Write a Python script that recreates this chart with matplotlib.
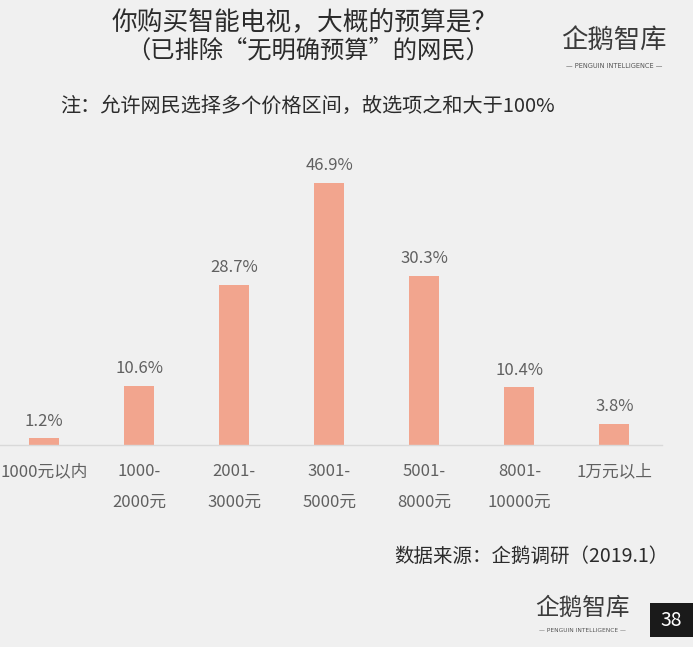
import matplotlib
matplotlib.use("Agg")
import matplotlib.pyplot as plt
from matplotlib.patches import Rectangle

plt.rcParams['font.family'] = ['Noto Sans CJK SC', 'DejaVu Sans']

categories = ["1000元以内", "1000-\n2000元", "2001-\n3000元", "3001-\n5000元",
              "5001-\n8000元", "8001-\n10000元", "1万元以上"]
values = [1.2, 10.6, 28.7, 46.9, 30.3, 10.4, 3.8]

title_lines = ["你购买智能电视，大概的预算是？", "（已排除\u201c无明确预算\u201d的网民）"]
note = "注：允许网民选择多个价格区间，故选项之和大于100%"
source = "数据来源：企鹅调研（2019.1）"
page_no = "38"

BG = "#f0f0f0"
BAR = "#f2a58e"
TXT = "#606060"
DARK = "#2b2b2b"

W, H = 693, 647
fig = plt.figure(figsize=(W / 100, H / 100), dpi=100, facecolor=BG)

base_px = 445
top_px = 150
ax = fig.add_axes([0, (H - base_px) / H, 662 / W, (base_px - top_px) / H])
ax.set_facecolor(BG)
ax.bar(range(len(values)), values, width=0.315, color=BAR)
ax.set_xlim(-0.463, 6.5)
ax.set_ylim(0, (base_px - top_px) / 5.59)
for s in ["top", "right", "left"]:
    ax.spines[s].set_visible(False)
ax.spines["bottom"].set_color("#d9d9d9")
ax.spines["bottom"].set_linewidth(1.0)
ax.set_yticks([])
ax.set_xticks(range(len(values)))
ax.set_xticklabels(categories, fontsize=12, color=TXT, linespacing=2.05)
ax.tick_params(axis="x", length=0, pad=13)

for i, v in enumerate(values):
    ax.annotate(f"{v}%", (i, v), xytext=(0, 6), textcoords="offset points",
                ha="center", va="bottom", fontsize=12, color=TXT)

# titles
fig.text(305 / W, 1 - 22 / H, title_lines[0], ha="center", va="center",
         fontsize=18.5, color=DARK)
fig.text(308 / W, 1 - 50 / H, title_lines[1], ha="center", va="center",
         fontsize=17.5, color=DARK)
fig.text(60 / W, 1 - 106 / H, note, ha="left", va="center",
         fontsize=14.5, color=DARK)
fig.text(668 / W, 1 - 556 / H, source, ha="right", va="center",
         fontsize=14, color=DARK)


def logo(cx, cy, size):
    fig.text(cx / W, 1 - cy / H, "企鹅智库", ha="center", va="center",
             fontsize=size, color="#3a3a3a")
    fig.text(cx / W, 1 - (cy + size * 1.35) / H,
             "— PENGUIN INTELLIGENCE —", ha="center", va="center",
             fontsize=size * 0.25, color="#555555", family="DejaVu Sans")


logo(614, 40, 19)
logo(582, 608, 17)

# page number box
fig.patches.append(Rectangle((650 / W, 1 - 637 / H), 43 / W, 34 / H,
                             transform=fig.transFigure, facecolor="#1a1a1a",
                             edgecolor="none"))
fig.text(671 / W, 1 - 620 / H, page_no, ha="center", va="center",
         fontsize=14, color="white")

fig.savefig("out.png", dpi=100, facecolor=BG)
